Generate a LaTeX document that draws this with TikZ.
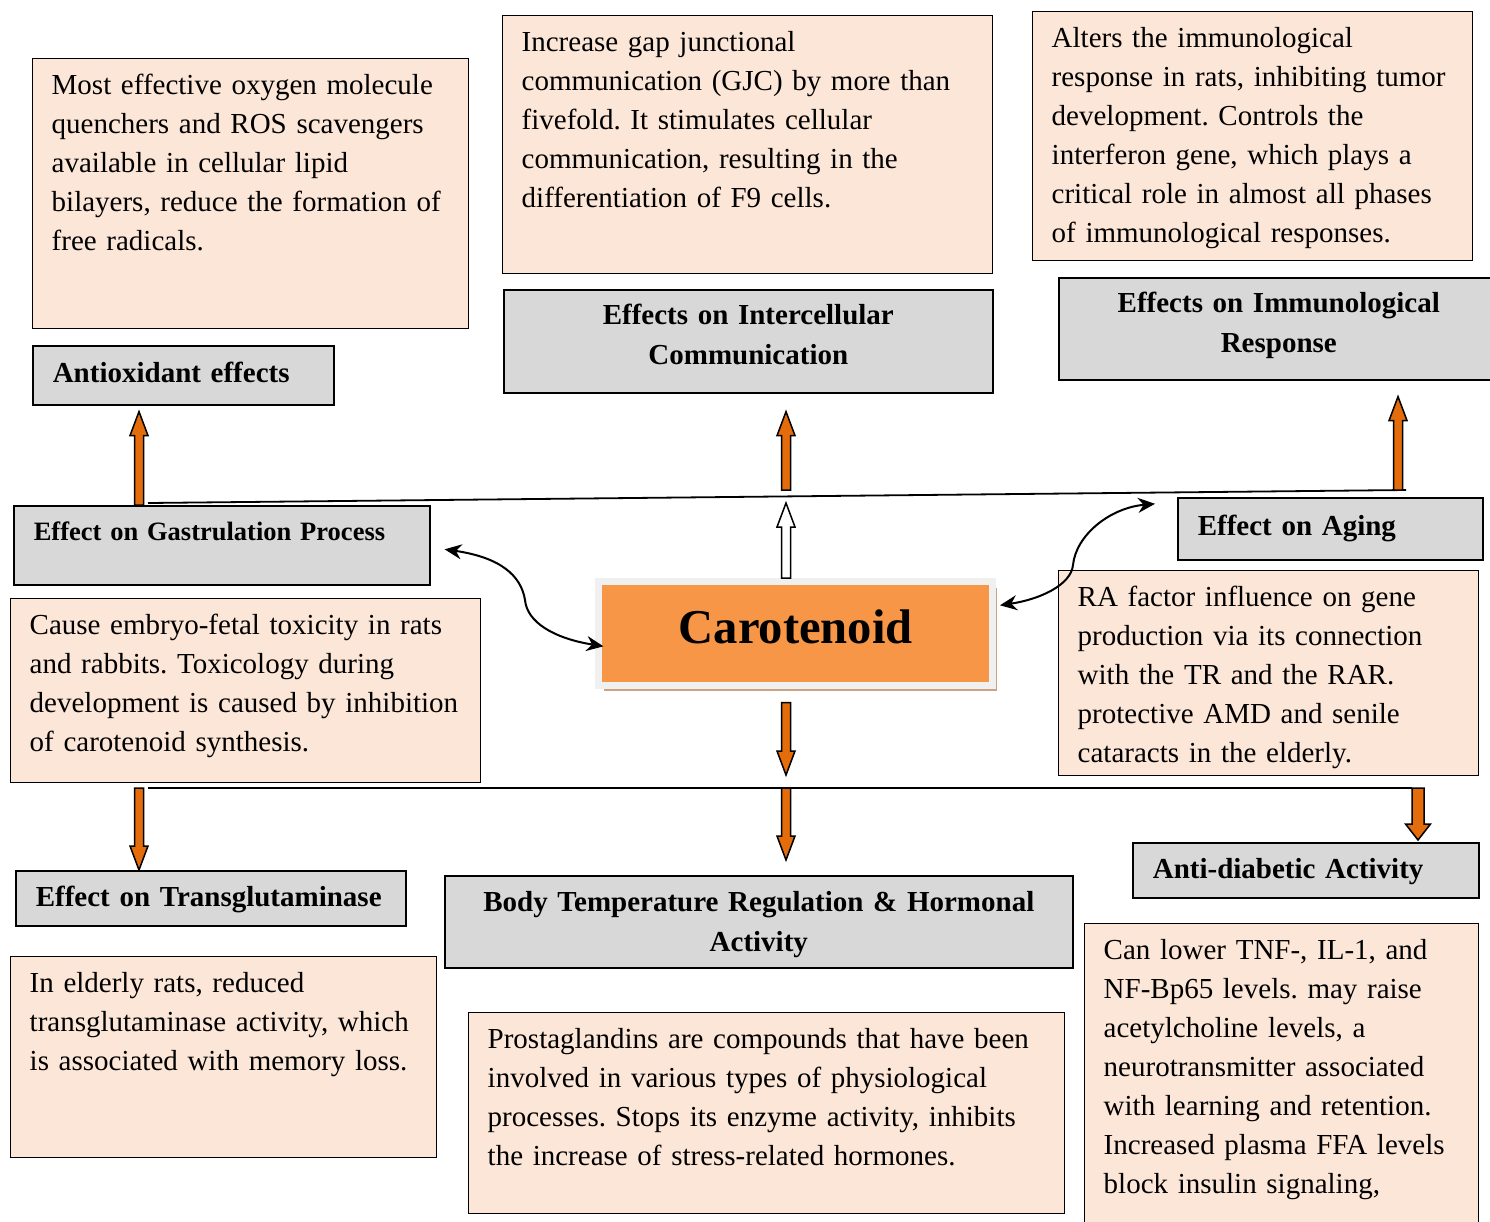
\documentclass[tikz,border=0pt]{standalone}
\usepackage{fontspec}
\setmainfont{Liberation Serif}
\usetikzlibrary{calc,arrows.meta,shadows}
\frenchspacing

\definecolor{peachfill}{HTML}{FCE6D7}
\definecolor{headgray}{HTML}{D8D8D8}
\definecolor{arrorange}{HTML}{E46C0A}
\definecolor{carorange}{HTML}{F79646}
\definecolor{framegray}{HTML}{F0F0F0}
\definecolor{shadowbrown}{HTML}{C9A383}

\newcommand{\bodytext}{\fontsize{29}{39}\selectfont}
\newcommand{\headtext}{\fontsize{29}{40}\selectfont\bfseries}

% block arrow: shaft half width, head half width, head length
\newcommand{\bashaft}{4.5pt}
\newcommand{\bahead}{9pt}
\newcommand{\balen}{24pt}
\newcommand{\blockarrow}[3][arrorange]{%
  \coordinate (ba-s) at #2;
  \coordinate (ba-e) at #3;
  \coordinate (ba-h) at ($(ba-e)!\balen!(ba-s)$);
  \draw[blockline,fill=#1] ($(ba-s)!\bashaft!90:(ba-e)$) -- ($(ba-h)!\bashaft!90:(ba-e)$)
    -- ($(ba-h)!\bahead!90:(ba-e)$) -- (ba-e) -- ($(ba-h)!\bahead!-90:(ba-e)$)
    -- ($(ba-h)!\bashaft!-90:(ba-e)$) -- ($(ba-s)!\bashaft!-90:(ba-e)$) -- cycle;
}

\begin{document}
\begin{tikzpicture}[x=1pt,y=-1pt,
  infobox/.style={draw, line width=1.4pt, fill=peachfill, anchor=north west,
    inner xsep=19pt, inner ysep=0pt, align=left, font=\bodytext, text height=36pt},
  headbox/.style={draw, line width=1.6pt, fill=headgray, anchor=north west,
    inner xsep=20pt, inner ysep=0pt, align=left, font=\headtext},
  blockline/.style={draw=black, line width=1.5pt, line join=miter},
  busline/.style={line width=1.8pt},
  curvy/.style={line width=2pt, {Stealth[length=17pt,width=15pt]}-{Stealth[length=17pt,width=15pt]}}]
\useasboundingbox (0,0) rectangle (1490,1221);

% top row
\node[infobox, text width=398pt, text depth=234pt] (antiTxt) at (32,58)
  {Most effective oxygen molecule\\quenchers and ROS scavengers\\available in cellular lipid\\bilayers, reduce the formation of\\free radicals.};
\node[headbox, text width=261pt, text height=37pt, text depth=22pt] (antiHead) at (32,345)
  {Antioxidant effects};

\node[infobox, text width=452pt, text depth=222pt] (interTxt) at (502,15)
  {Increase gap junctional\\communication (GJC) by more than\\fivefold. It stimulates cellular\\communication, resulting in the\\differentiation of F9 cells.};
\node[headbox, align=center, text width=449pt, text height=35pt, text depth=68pt] (interHead) at (503,289)
  {Effects on Intercellular\\Communication};

\node[infobox, text width=402pt, text depth=213pt] (immunoTxt) at (1032,11)
  {Alters the immunological\\response in rats, inhibiting tumor\\development. Controls the\\interferon gene, which plays a\\critical role in almost all phases\\of immunological responses.};
\node[headbox, align=center, text width=400pt, text height=35pt, text depth=67pt] (immunoHead) at (1058,277)
  {Effects on Immunological\\Response};

% middle row
\node[headbox, font=\fontsize{26.5}{32}\selectfont\bfseries, text width=376pt, text height=35pt, text depth=44pt] (gastrHead) at (13,505)
  {Effect on Gastrulation Process};
\node[infobox, text width=432pt, text depth=148pt] (gastrTxt) at (10,598)
  {Cause embryo-fetal toxicity in rats\\and rabbits. Toxicology during\\development is caused by inhibition\\of carotenoid synthesis.};

\node[draw=framegray, line width=7pt, fill=carorange, minimum width=393.5pt, minimum height=103.5pt,
  inner sep=0pt, text height=34pt, text depth=14pt, font=\fontsize{48.6}{50}\selectfont\bfseries,
  drop shadow={shadow xshift=5pt, shadow yshift=-6pt, fill=shadowbrown, opacity=1}] (carot) at (795.7,633.3)
  {Carotenoid};

\node[headbox, text width=265pt, text height=38pt, text depth=24pt] (agingHead) at (1177,497)
  {Effect on Aging};
\node[infobox, text width=382pt, text depth=169pt] (agingTxt) at (1058,570)
  {RA factor influence on gene\\production via its connection\\with the TR and the RAR.\\protective AMD and senile\\cataracts in the elderly.};

% bottom row
\node[headbox, text width=350pt, text height=36pt, text depth=19pt] (transHead) at (15,870)
  {Effect on Transglutaminase};
\node[infobox, text width=388pt, text depth=165pt] (transTxt) at (10,956)
  {In elderly rats, reduced\\transglutaminase activity, which\\is associated with memory loss.};

\node[headbox, align=center, text width=588pt, text height=36pt, text depth=56pt] (bodyHead) at (444,875)
  {Body Temperature Regulation \& Hormonal\\Activity};
\node[infobox, text width=558pt, text depth=165pt] (prostTxt) at (468,1012)
  {Prostaglandins are compounds that have been\\involved in various types of physiological\\processes. Stops its enzyme activity, inhibits\\the increase of stress-related hormones.};

\node[headbox, text width=306pt, text height=36pt, text depth=19pt] (diabHead) at (1132,842)
  {Anti-diabetic Activity};
\node[infobox, text width=356pt, text depth=284pt] (diabTxt) at (1084,923)
  {Can lower TNF-, IL-1, and\\NF-Bp65 levels. may raise\\acetylcholine levels, a\\neurotransmitter associated\\with learning and retention.\\Increased plasma FFA levels\\block insulin signaling,};

% bus lines
\coordinate (colL) at (139,0);
\coordinate (colM) at (786,0);
\coordinate (colR) at (1398,0);
\coordinate (colRR) at (1418,0);
\coordinate (topL) at (148,503);
\coordinate (topR) at (1406,490);
\coordinate (botL) at (148,788);
\coordinate (botR) at (1412,788);
\draw[busline] (topL) -- (topR);
\draw[busline] (botL) -- (botR);

% block arrows
\blockarrow{(gastrHead.north -| colL)}{($(antiHead.south -| colL)+(0,6)$)}
\blockarrow{($(colM |- topL)+(0,-13)$)}{($(interHead.south -| colM)+(0,18)$)}
\blockarrow{(topR -| colR)}{($(immunoHead.south -| colR)+(0,16)$)}
\blockarrow[white]{(carot.north -| colM)}{(colM |- topL)}
\blockarrow{($(carot.south -| colM)+(0,14)$)}{($(colM |- botL)+(0,-13)$)}
\blockarrow{(botL -| colL)}{(transHead.north -| colL)}
\blockarrow{(botL -| colM)}{($(bodyHead.north -| colM)+(0,-15)$)}
\begin{scope}
\renewcommand{\bashaft}{6pt}\renewcommand{\bahead}{12.5pt}\renewcommand{\balen}{16pt}
\blockarrow{(botR -| colRR)}{($(diabHead.north -| colRR)+(0,-2)$)}
\end{scope}

% curved links
\draw[curvy] ($(gastrHead.east)+(14,4)$) .. controls +(55,8) and +(-4,-25) .. (525,600)
  .. controls +(2,22) and +(-50,-8) .. ($(carot.west)+(8,13)$);
\draw[curvy] ($(carot.east)+(4,-28)$) .. controls +(40,-6) and +(-2,20) .. (1073,565)
  .. controls +(3,-30) and +(-45,4) .. ($(agingHead.west)+(-22,-25)$);
\end{tikzpicture}
\end{document}
